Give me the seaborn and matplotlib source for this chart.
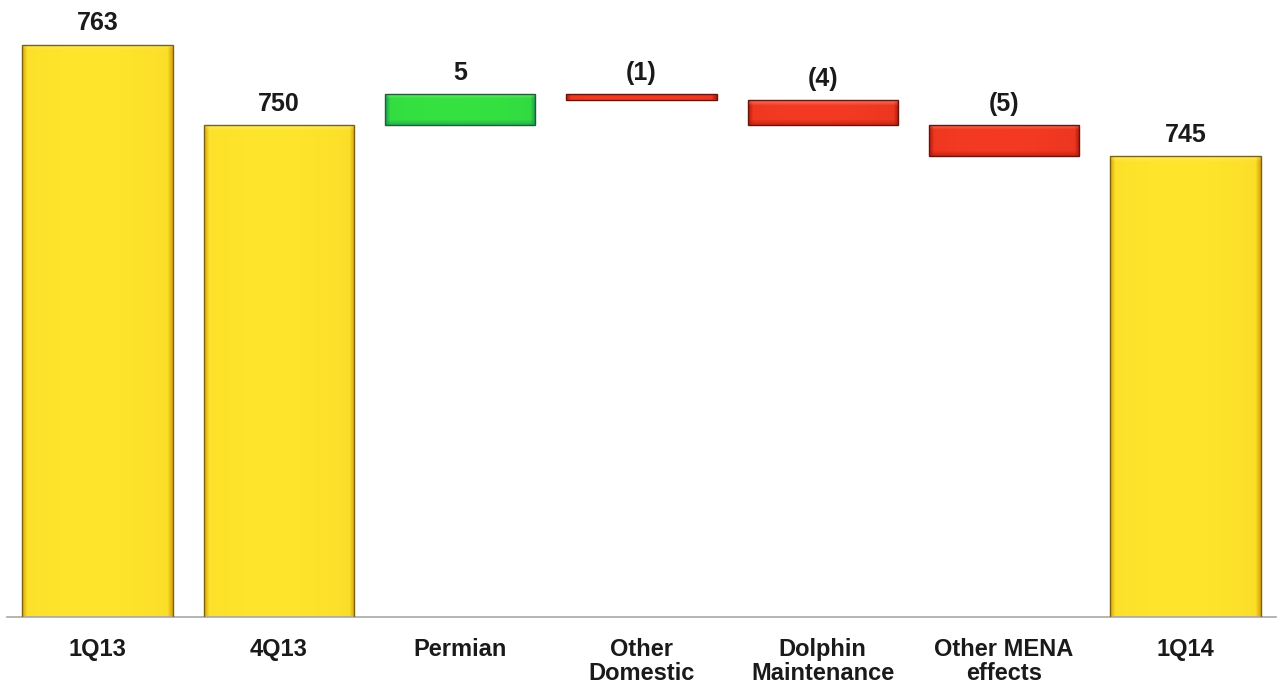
import numpy as np
import pandas as pd
import matplotlib
matplotlib.use("Agg")
import matplotlib.pyplot as plt
import matplotlib.colors as mcolors
import seaborn as sns

# Production bridge, 1Q13 -> 1Q14 (Mboe/d)
categories = ["1Q13", "4Q13", "Permian", "Other\nDomestic",
              "Dolphin\nMaintenance", "Other MENA\neffects", "1Q14"]
values = [763, 750, 5, -1, -4, -5, 745]
kinds = ["total", "total", "delta", "delta", "delta", "delta", "total"]
value_labels = ["763", "750", "5", "(1)", "(4)", "(5)", "745"]

# floating segments start from the 4Q13 level
bottoms, heights = [], []
running = None
for v, k in zip(values, kinds):
    if k == "total":
        bottoms.append(0.0)
        heights.append(float(v))
        running = float(v)
    else:
        lo, hi = min(running, running + v), max(running, running + v)
        bottoms.append(lo)
        heights.append(hi - lo)
        running += v

df = pd.DataFrame({"cat": categories, "height": heights, "kind": kinds})

# (face, bevel, outline) per bar type
shades = {
    "total": ("#FFE52C", "#D9A40A", "#7A6410"),
    "pos": ("#35E240", "#1C9856", "#1E5E33"),
    "neg": ("#F43A22", "#B01A0E", "#6A130B"),
}


def shade_key(v, k):
    if k == "total":
        return "total"
    return "pos" if v > 0 else "neg"


keys = [shade_key(v, k) for v, k in zip(values, kinds)]
palette = {c: shades[key][0] for c, key in zip(categories, keys)}

sns.set_theme(style="white")
plt.rcParams["font.family"] = ["Liberation Sans", "DejaVu Sans"]

W, H = 1277, 684
fig = plt.figure(figsize=(W / 100, H / 100), dpi=100)
ax = fig.add_axes([7 / W, (H - 617) / H, (1276 - 7) / W, 617 / H])

sns.barplot(data=df, x="cat", y="height", hue="cat", palette=palette,
            width=0.83, legend=False, ax=ax, linewidth=0, saturation=1)

ax.set_ylim(670.7, 770.2)
ax.set_xlim(-0.5, len(categories) - 0.5)

# lift the floating bars and paint a bevelled face inside each one
fig.canvas.draw()
for patch, b, key in zip(ax.patches, bottoms, keys):
    patch.set_y(b)
    face, bevel, edge = shades[key]
    x0, w = patch.get_x(), patch.get_width()
    y0 = max(b, ax.get_ylim()[0])
    y1 = patch.get_y() + patch.get_height()
    p0 = ax.transData.transform((x0, y0))
    p1 = ax.transData.transform((x0 + w, y1))
    nw = max(int(abs(p1[0] - p0[0])), 2)
    nh = max(int(abs(p1[1] - p0[1])), 2)
    xs = np.arange(nw)
    ys = np.arange(nh)
    dx = np.minimum(xs, nw - 1 - xs).astype(float)
    # soft body shading, stronger towards the sides
    t = xs / (nw - 1)
    body = 0.12 * (np.abs(t - 0.45) / 0.55) ** 2
    side = np.clip(1 - dx / 5.0, 0, 1) * 0.85
    prof = np.clip(body + side, 0, 1)
    fc = np.array(mcolors.to_rgb(face))
    bc = np.array(mcolors.to_rgb(bevel))
    row = fc[None, :] * (1 - prof[:, None]) + bc[None, :] * prof[:, None]
    img = np.repeat(row[None, :, :], nh, axis=0)
    if nh > 8:
        top = np.clip(1 - ys / 5.0, 0, 1)[:, None, None]
        img = img * (1 - 0.3 * top) + np.array([1.0, 1.0, 0.9]) * 0.3 * top
        if y0 == b:
            bot = np.clip(1 - (nh - 1 - ys) / 5.0, 0, 1)[:, None, None]
            img = img * (1 - 0.6 * bot) + bc * 0.6 * bot
    img = np.clip(img, 0, 1)
    im = ax.imshow(img, extent=[x0, x0 + w, y0, y1], aspect="auto",
                   origin="upper", zorder=2, interpolation="bilinear")
    im.set_clip_path(patch)
    patch.set_facecolor("none")
    patch.set_edgecolor(edge)
    patch.set_linewidth(1.0)
    patch.set_zorder(3)

# value labels above each bar
for i, (b, h, lab) in enumerate(zip(bottoms, heights, value_labels)):
    ax.annotate(lab, xy=(i, b + h), xytext=(0, 7), textcoords="offset points",
                ha="center", va="bottom", fontsize=18, fontweight="bold",
                color="#1A1A1A")

# axis styling
for side in ["left", "right", "top"]:
    ax.spines[side].set_visible(False)
ax.spines["bottom"].set_color("#A8A8A8")
ax.spines["bottom"].set_linewidth(1.2)
ax.set_yticks([])
ax.set_xlabel("")
ax.set_ylabel("")
ax.set_xticks(range(len(categories)))
ax.set_xticklabels(categories, fontsize=17, fontweight="bold", color="#1A1A1A",
                   linespacing=1.08)
ax.tick_params(axis="x", which="major", length=0, pad=15)
ax.set_xticks(np.arange(-0.5, len(categories)), minor=True)
ax.tick_params(axis="x", which="minor", length=7, width=1.2, color="#A8A8A8",
               direction="out")
ax.set_facecolor("white")
fig.patch.set_facecolor("white")

fig.savefig("out.png", dpi=100, facecolor="white")
